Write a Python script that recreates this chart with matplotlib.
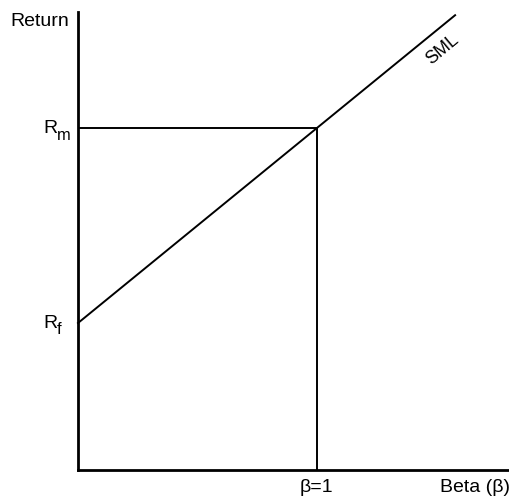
import matplotlib.pyplot as plt

plt.rcParams['font.family'] = ['Liberation Sans', 'DejaVu Sans']

# Security market line data (arbitrary units)
rf = 0.43          # risk-free return
rm = 1.0           # market return
beta_market = 1.0
beta_end = 1.58    # where the SML line stops
x_max = 1.81
y_max = 1.34

sml_beta = [0, beta_market, beta_end]
sml_ret = [rf + (rm - rf) * b for b in sml_beta]

fig = plt.figure(figsize=(5.10, 4.97), dpi=100)
ax = fig.add_axes([78 / 510, 27 / 497, 1 - 78 / 510, 458 / 497])
ax.set_xlim(0, x_max)
ax.set_ylim(0, y_max)

# SML line
ax.plot(sml_beta, sml_ret, color='black', lw=1.4, clip_on=False)
# market guides
ax.plot([0, beta_market], [rm, rm], color='black', lw=1.4)
ax.plot([beta_market, beta_market], [0, rm], color='black', lw=1.4)

for s in ['top', 'right']:
    ax.spines[s].set_visible(False)
for s in ['left', 'bottom']:
    ax.spines[s].set_linewidth(2)
ax.set_xticks([])
ax.set_yticks([])

fs = 14
fig.text(10 / 510, 1 - 22 / 497, 'Return', fontsize=fs, va='center', ha='left')

# R labels with subscripts drawn as separate text
for val, sub in [(rm, 'm'), (rf, 'f')]:
    ax.annotate('R', (0, val), xytext=(-25, 0), textcoords='offset points',
                fontsize=fs, ha='left', va='center')
    ax.annotate(sub, (0, val), xytext=(-15, -5), textcoords='offset points',
                fontsize=fs * 0.85, ha='left', va='center')

ax.text(beta_market, -0.05, 'β=1', fontsize=fs, ha='center', va='center')
fig.text(1.0, 9 / 497, 'Beta (β)', fontsize=fs, ha='right', va='center')
ax.text(1.528, 1.23, 'SML', fontsize=fs - 1, rotation=40,
        ha='center', va='center', rotation_mode='anchor')

fig.savefig('out.png', dpi=100)
